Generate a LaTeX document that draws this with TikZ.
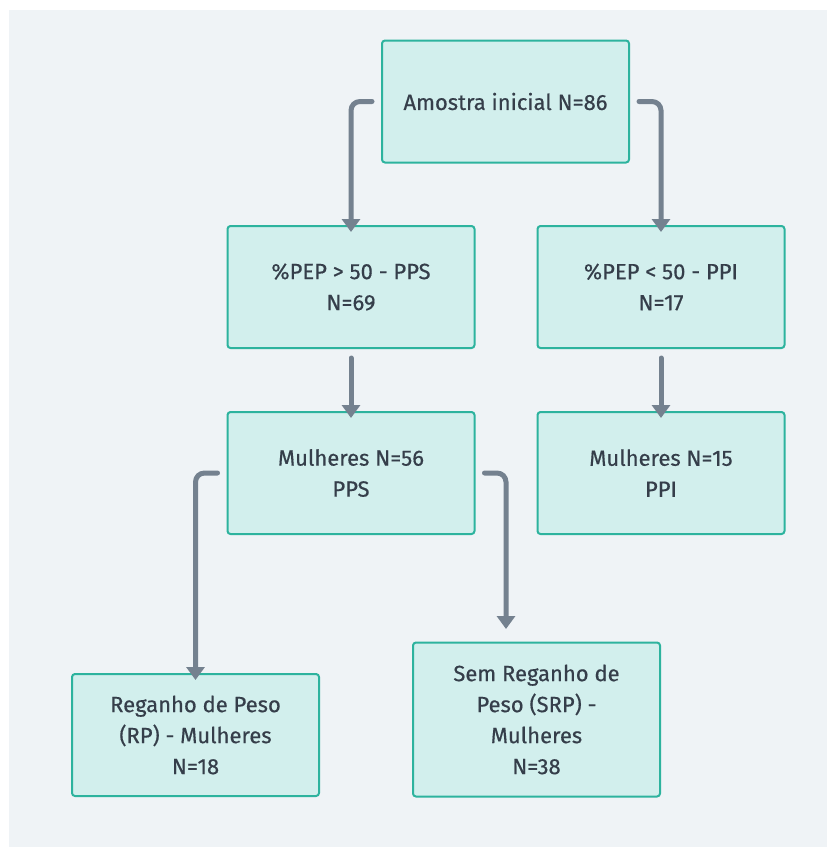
\documentclass[tikz,border=0pt]{standalone}
\usepackage{fontspec}
\setmainfont{Fira Sans}[FakeBold=0.5]
\usetikzlibrary{arrows.meta}
\definecolor{bgc}{HTML}{EFF3F6}
\definecolor{boxfill}{HTML}{D2EFED}
\definecolor{boxline}{HTML}{2DB39E}
\definecolor{txt}{HTML}{353E4A}
\definecolor{arr}{HTML}{74818F}
\tikzset{
  fbox/.style={draw=boxline, fill=boxfill, line width=2pt, rounded corners=3pt,
    minimum width=247pt, minimum height=122pt, inner sep=0pt, align=center,
    text=txt, font=\fontsize{22}{31}\selectfont},
  conn/.style={draw=arr, line width=5pt, line cap=round, rounded corners=9pt,
    -{Triangle[width=18pt,length=13pt]}},
}
\begin{document}
\begin{tikzpicture}[x=1pt,y=-1pt]
\useasboundingbox (0,0) rectangle (827,847);
\fill[white] (0,0) rectangle (827,847);
\fill[bgc] (9,10) rectangle (827,847);
\node[fbox] (top) at (505.5,101.5) {Amostra inicial N=86};
\node[fbox] (pps) at (351,287) {\%PEP > 50 - PPS\\N=69};
\node[fbox] (ppi) at (661,287) {\%PEP < 50 - PPI\\N=17};
\node[fbox] (mpps) at (351,473) {Mulheres N=56\\PPS};
\node[fbox] (mppi) at (661,473) {Mulheres N=15\\PPI};
\node[fbox] (rp) at (195.5,735) {Reganho de Peso\\(RP) - Mulheres\\N=18};
\node[fbox, minimum height=154pt] (srp) at (536.5,719.5) {Sem Reganho de\\Peso (SRP) -\\Mulheres\\N=38};
\coordinate (rpin) at (506,629);
\draw[conn] ([xshift=-9pt]top.west) -| ([yshift=-7pt]pps.north);
\draw[conn] ([xshift=9pt]top.east) -| ([yshift=-7pt]ppi.north);
\draw[conn] ([yshift=-9pt]pps.south) -- ([yshift=-7pt]mpps.north);
\draw[conn] ([yshift=-9pt]ppi.south) -- ([yshift=-7pt]mppi.north);
\draw[conn] ([xshift=-9pt]mpps.west) -| ([yshift=-7pt]rp.north);
\draw[conn] ([xshift=9pt]mpps.east) -| (rpin);
\end{tikzpicture}
\end{document}
